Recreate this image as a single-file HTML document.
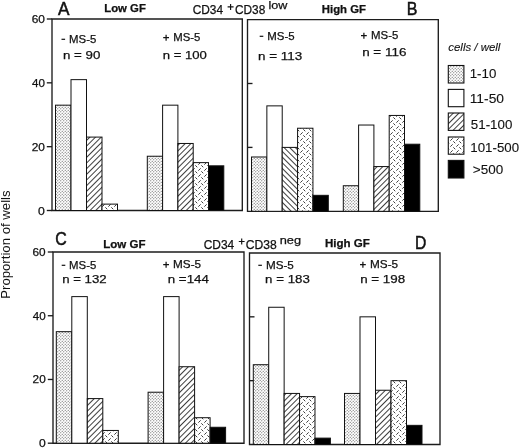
<!DOCTYPE html>
<html><head><meta charset="utf-8"><style>
html,body{margin:0;padding:0;background:#fff;}
svg{display:block;filter:grayscale(1);}
text{font-family:"Liberation Sans",sans-serif;}
</style></head><body>
<svg width="520" height="448" viewBox="0 0 520 448">
<rect width="520" height="448" fill="#fff"/>
<defs>
<pattern id="dots" width="3" height="3" patternUnits="userSpaceOnUse">
<rect width="3" height="3" fill="#fff"/>
<circle cx="0.75" cy="0.75" r="0.62" fill="#5e5e5e"/>
<circle cx="2.25" cy="2.25" r="0.62" fill="#5e5e5e"/>
</pattern>
<pattern id="hf" width="4" height="4" patternUnits="userSpaceOnUse" patternTransform="rotate(45)">
<rect width="4" height="4" fill="#fff"/>
<rect x="0" y="0" width="0.95" height="4" fill="#333"/>
</pattern>
<pattern id="hb" width="4" height="4" patternUnits="userSpaceOnUse" patternTransform="rotate(-45)">
<rect width="4" height="4" fill="#fff"/>
<rect x="0" y="0" width="0.95" height="4" fill="#333"/>
</pattern>
<pattern id="dash" width="6" height="6" patternUnits="userSpaceOnUse">
<rect width="6" height="6" fill="#fff"/>
<path d="M0.6 2.4L2.4 0.6M3.6 3.6L5.0 5.0" stroke="#333" stroke-width="0.95" stroke-linecap="round"/>
</pattern>
</defs>
<path d="M52 19H242.3V210.5H52Z" fill="none" stroke="#1c1c1c" stroke-width="1.35"/>
<path d="M46.8 19.00H52" stroke="#1c1c1c" stroke-width="1.35"/>
<path d="M46.8 82.83H52" stroke="#1c1c1c" stroke-width="1.35"/>
<path d="M46.8 146.67H52" stroke="#1c1c1c" stroke-width="1.35"/>
<path d="M46.8 210.50H52" stroke="#1c1c1c" stroke-width="1.35"/>
<rect x="55.50" y="105.17" width="15.50" height="105.33" fill="url(#dots)" stroke="#111" stroke-width="1.0"/>
<rect x="71.00" y="79.64" width="15.50" height="130.86" fill="#fff" stroke="#111" stroke-width="1.0"/>
<rect x="86.50" y="137.09" width="15.50" height="73.41" fill="url(#hf)" stroke="#111" stroke-width="1.0"/>
<rect x="102.00" y="204.12" width="15.50" height="6.38" fill="url(#dash)" stroke="#111" stroke-width="1.0"/>
<rect x="147.30" y="156.24" width="15.30" height="54.26" fill="url(#dots)" stroke="#111" stroke-width="1.0"/>
<rect x="162.60" y="105.17" width="15.30" height="105.33" fill="#fff" stroke="#111" stroke-width="1.0"/>
<rect x="177.90" y="143.47" width="15.30" height="67.03" fill="url(#hf)" stroke="#111" stroke-width="1.0"/>
<rect x="193.20" y="162.62" width="15.30" height="47.88" fill="url(#dash)" stroke="#111" stroke-width="1.0"/>
<rect x="208.50" y="165.82" width="15.30" height="44.68" fill="#000" stroke="#111" stroke-width="1.0"/>
<path d="M247.5 19.6H438.3V211.3H247.5Z" fill="none" stroke="#1c1c1c" stroke-width="1.35"/>
<path d="M247.5 83.50H252.5" stroke="#1c1c1c" stroke-width="1.35"/>
<path d="M247.5 147.40H252.5" stroke="#1c1c1c" stroke-width="1.35"/>
<rect x="251.50" y="156.99" width="15.36" height="54.31" fill="url(#dots)" stroke="#111" stroke-width="1.0"/>
<rect x="266.86" y="105.87" width="15.36" height="105.44" fill="#fff" stroke="#111" stroke-width="1.0"/>
<rect x="282.22" y="147.40" width="15.36" height="63.90" fill="url(#hb)" stroke="#111" stroke-width="1.0"/>
<rect x="297.58" y="128.23" width="15.36" height="83.07" fill="url(#dash)" stroke="#111" stroke-width="1.0"/>
<rect x="312.94" y="195.33" width="15.36" height="15.97" fill="#000" stroke="#111" stroke-width="1.0"/>
<rect x="343.30" y="185.74" width="15.30" height="25.56" fill="url(#dots)" stroke="#111" stroke-width="1.0"/>
<rect x="358.60" y="125.03" width="15.30" height="86.27" fill="#fff" stroke="#111" stroke-width="1.0"/>
<rect x="373.90" y="166.57" width="15.30" height="44.73" fill="url(#hf)" stroke="#111" stroke-width="1.0"/>
<rect x="389.20" y="115.45" width="15.30" height="95.85" fill="url(#dash)" stroke="#111" stroke-width="1.0"/>
<rect x="404.50" y="144.21" width="15.30" height="67.09" fill="#000" stroke="#111" stroke-width="1.0"/>
<path d="M53 252H244V443.2H53Z" fill="none" stroke="#1c1c1c" stroke-width="1.35"/>
<path d="M47.8 252.00H53" stroke="#1c1c1c" stroke-width="1.35"/>
<path d="M47.8 315.73H53" stroke="#1c1c1c" stroke-width="1.35"/>
<path d="M47.8 379.47H53" stroke="#1c1c1c" stroke-width="1.35"/>
<path d="M47.8 443.20H53" stroke="#1c1c1c" stroke-width="1.35"/>
<rect x="56.30" y="331.67" width="15.50" height="111.53" fill="url(#dots)" stroke="#111" stroke-width="1.0"/>
<rect x="71.80" y="296.61" width="15.50" height="146.59" fill="#fff" stroke="#111" stroke-width="1.0"/>
<rect x="87.30" y="398.59" width="15.50" height="44.61" fill="url(#hf)" stroke="#111" stroke-width="1.0"/>
<rect x="102.80" y="430.45" width="15.50" height="12.75" fill="url(#dash)" stroke="#111" stroke-width="1.0"/>
<rect x="148.10" y="392.21" width="15.50" height="50.99" fill="url(#dots)" stroke="#111" stroke-width="1.0"/>
<rect x="163.60" y="296.61" width="15.50" height="146.59" fill="#fff" stroke="#111" stroke-width="1.0"/>
<rect x="179.10" y="366.72" width="15.50" height="76.48" fill="url(#hf)" stroke="#111" stroke-width="1.0"/>
<rect x="194.60" y="417.71" width="15.50" height="25.49" fill="url(#dash)" stroke="#111" stroke-width="1.0"/>
<rect x="210.10" y="427.27" width="15.50" height="15.93" fill="#000" stroke="#111" stroke-width="1.0"/>
<path d="M249.5 253H440V444.5H249.5Z" fill="none" stroke="#1c1c1c" stroke-width="1.35"/>
<path d="M249.5 316.83H254.5" stroke="#1c1c1c" stroke-width="1.35"/>
<path d="M249.5 380.67H254.5" stroke="#1c1c1c" stroke-width="1.35"/>
<rect x="253.30" y="364.71" width="15.42" height="79.79" fill="url(#dots)" stroke="#111" stroke-width="1.0"/>
<rect x="268.72" y="307.26" width="15.42" height="137.24" fill="#fff" stroke="#111" stroke-width="1.0"/>
<rect x="284.14" y="393.43" width="15.42" height="51.07" fill="url(#hf)" stroke="#111" stroke-width="1.0"/>
<rect x="299.56" y="396.62" width="15.42" height="47.88" fill="url(#dash)" stroke="#111" stroke-width="1.0"/>
<rect x="314.98" y="438.12" width="15.42" height="6.38" fill="#000" stroke="#111" stroke-width="1.0"/>
<rect x="344.50" y="393.43" width="15.50" height="51.07" fill="url(#dots)" stroke="#111" stroke-width="1.0"/>
<rect x="360.00" y="316.83" width="15.50" height="127.67" fill="#fff" stroke="#111" stroke-width="1.0"/>
<rect x="375.50" y="390.24" width="15.50" height="54.26" fill="url(#hf)" stroke="#111" stroke-width="1.0"/>
<rect x="391.00" y="380.67" width="15.50" height="63.83" fill="url(#dash)" stroke="#111" stroke-width="1.0"/>
<rect x="406.50" y="425.35" width="15.50" height="19.15" fill="#000" stroke="#111" stroke-width="1.0"/>
<text x="31.75" y="23.00" font-size="11" textLength="13.22" lengthAdjust="spacingAndGlyphs" fill="#111" stroke="#111" stroke-width="0.25">60</text>
<text x="32.06" y="86.83" font-size="11" textLength="12.92" lengthAdjust="spacingAndGlyphs" fill="#111" stroke="#111" stroke-width="0.25">40</text>
<text x="31.77" y="150.67" font-size="11" textLength="13.18" lengthAdjust="spacingAndGlyphs" fill="#111" stroke="#111" stroke-width="0.25">20</text>
<text x="38.08" y="214.50" font-size="11" textLength="6.79" lengthAdjust="spacingAndGlyphs" fill="#111" stroke="#111" stroke-width="0.25">0</text>
<text x="32.56" y="256.00" font-size="11" textLength="13.15" lengthAdjust="spacingAndGlyphs" fill="#111" stroke="#111" stroke-width="0.25">60</text>
<text x="32.83" y="319.73" font-size="11" textLength="12.93" lengthAdjust="spacingAndGlyphs" fill="#111" stroke="#111" stroke-width="0.25">40</text>
<text x="32.60" y="383.47" font-size="11" textLength="13.09" lengthAdjust="spacingAndGlyphs" fill="#111" stroke="#111" stroke-width="0.25">20</text>
<text x="38.90" y="447.20" font-size="11" textLength="6.74" lengthAdjust="spacingAndGlyphs" fill="#111" stroke="#111" stroke-width="0.25">0</text>
<text x="57.94" y="15.00" font-size="17.7" textLength="11.48" lengthAdjust="spacingAndGlyphs" fill="#111" stroke="#111" stroke-width="0.5">A</text>
<text x="104.27" y="11.90" font-size="10.5" font-weight="bold" textLength="41.57" lengthAdjust="spacingAndGlyphs" fill="#111" stroke="#111" stroke-width="0.25">Low GF</text>
<text x="192.67" y="14.00" font-size="12" textLength="30.38" lengthAdjust="spacingAndGlyphs" fill="#111" stroke="#111" stroke-width="0.25">CD34</text>
<path d="M227.6 6.9H233.6M230.6 4.0V9.9" stroke="#111" stroke-width="1.15"/>
<text x="234.95" y="14.00" font-size="12" textLength="30.31" lengthAdjust="spacingAndGlyphs" fill="#111" stroke="#111" stroke-width="0.25">CD38</text>
<text x="268.45" y="9.00" font-size="11" textLength="18.90" lengthAdjust="spacingAndGlyphs" fill="#111" stroke="#111" stroke-width="0.25">low</text>
<text x="321.83" y="13.00" font-size="10.5" font-weight="bold" textLength="44.12" lengthAdjust="spacingAndGlyphs" fill="#111" stroke="#111" stroke-width="0.25">High GF</text>
<text x="406.69" y="15.00" font-size="18" textLength="10.66" lengthAdjust="spacingAndGlyphs" fill="#111" stroke="#111" stroke-width="0.5">B</text>
<text x="55.28" y="245.00" font-size="19" textLength="11.51" lengthAdjust="spacingAndGlyphs" fill="#111" stroke="#111" stroke-width="0.5">C</text>
<text x="103.26" y="247.60" font-size="10.5" font-weight="bold" textLength="42.31" lengthAdjust="spacingAndGlyphs" fill="#111" stroke="#111" stroke-width="0.25">Low GF</text>
<text x="203.68" y="249.00" font-size="12" textLength="30.52" lengthAdjust="spacingAndGlyphs" fill="#111" stroke="#111" stroke-width="0.25">CD34</text>
<path d="M238.8 241.5H244.6M241.7 238.5V244.5" stroke="#111" stroke-width="1.15"/>
<text x="245.66" y="249.00" font-size="12" textLength="30.99" lengthAdjust="spacingAndGlyphs" fill="#111" stroke="#111" stroke-width="0.25">CD38</text>
<text x="279.75" y="244.00" font-size="11" textLength="21.32" lengthAdjust="spacingAndGlyphs" fill="#111" stroke="#111" stroke-width="0.25">neg</text>
<text x="325.03" y="246.50" font-size="10.5" font-weight="bold" textLength="44.88" lengthAdjust="spacingAndGlyphs" fill="#111" stroke="#111" stroke-width="0.25">High GF</text>
<text x="414.94" y="248.70" font-size="17.5" textLength="11.31" lengthAdjust="spacingAndGlyphs" fill="#111" stroke="#111" stroke-width="0.5">D</text>
<rect x="61.50" y="38.70" width="3.6" height="1.2" fill="#111"/>
<text x="69.12" y="43.00" font-size="11.5" textLength="27.21" lengthAdjust="spacingAndGlyphs" fill="#111" stroke="#111" stroke-width="0.25">MS-5</text>
<text x="62.96" y="59.00" font-size="11.6" textLength="37.35" lengthAdjust="spacingAndGlyphs" fill="#111" stroke="#111" stroke-width="0.25">n = 90</text>
<path d="M163.20 37.70h5.8M166.10 34.70v6" stroke="#111" stroke-width="1.2"/>
<text x="173.30" y="41.00" font-size="11.5" textLength="27.07" lengthAdjust="spacingAndGlyphs" fill="#111" stroke="#111" stroke-width="0.25">MS-5</text>
<text x="162.75" y="59.00" font-size="11.6" textLength="44.07" lengthAdjust="spacingAndGlyphs" fill="#111" stroke="#111" stroke-width="0.25">n = 100</text>
<rect x="259.70" y="35.70" width="3.6" height="1.2" fill="#111"/>
<text x="267.27" y="40.00" font-size="11.5" textLength="27.32" lengthAdjust="spacingAndGlyphs" fill="#111" stroke="#111" stroke-width="0.25">MS-5</text>
<text x="257.96" y="60.00" font-size="11.6" textLength="44.23" lengthAdjust="spacingAndGlyphs" fill="#111" stroke="#111" stroke-width="0.25">n = 113</text>
<path d="M361.00 35.70h5.8M363.90 32.70v6" stroke="#111" stroke-width="1.2"/>
<text x="371.08" y="39.00" font-size="11.5" textLength="27.26" lengthAdjust="spacingAndGlyphs" fill="#111" stroke="#111" stroke-width="0.25">MS-5</text>
<text x="362.16" y="56.00" font-size="11.6" textLength="44.24" lengthAdjust="spacingAndGlyphs" fill="#111" stroke="#111" stroke-width="0.25">n = 116</text>
<rect x="61.70" y="264.70" width="3.6" height="1.2" fill="#111"/>
<text x="69.12" y="269.00" font-size="11.5" textLength="27.21" lengthAdjust="spacingAndGlyphs" fill="#111" stroke="#111" stroke-width="0.25">MS-5</text>
<text x="62.17" y="283.00" font-size="11.6" textLength="44.47" lengthAdjust="spacingAndGlyphs" fill="#111" stroke="#111" stroke-width="0.25">n = 132</text>
<path d="M163.20 264.70h5.8M166.10 261.70v6" stroke="#111" stroke-width="1.2"/>
<text x="173.10" y="268.00" font-size="11.5" textLength="28.06" lengthAdjust="spacingAndGlyphs" fill="#111" stroke="#111" stroke-width="0.25">MS-5</text>
<text x="167.74" y="283.00" font-size="11.6" textLength="41.18" lengthAdjust="spacingAndGlyphs" fill="#111" stroke="#111" stroke-width="0.25">n =144</text>
<rect x="258.30" y="264.70" width="3.6" height="1.2" fill="#111"/>
<text x="265.93" y="269.00" font-size="11.5" textLength="27.90" lengthAdjust="spacingAndGlyphs" fill="#111" stroke="#111" stroke-width="0.25">MS-5</text>
<text x="265.14" y="283.00" font-size="11.6" textLength="44.66" lengthAdjust="spacingAndGlyphs" fill="#111" stroke="#111" stroke-width="0.25">n = 183</text>
<path d="M360.00 264.70h5.8M362.90 261.70v6" stroke="#111" stroke-width="1.2"/>
<text x="370.04" y="268.00" font-size="11.5" textLength="28.15" lengthAdjust="spacingAndGlyphs" fill="#111" stroke="#111" stroke-width="0.25">MS-5</text>
<text x="360.16" y="283.00" font-size="11.6" textLength="45.01" lengthAdjust="spacingAndGlyphs" fill="#111" stroke="#111" stroke-width="0.25">n = 198</text>
<text x="448.26" y="51.40" font-size="11" font-style="italic" textLength="52.17" lengthAdjust="spacingAndGlyphs" fill="#111" stroke="#111" stroke-width="0.1">cells / well</text>
<rect x="448.3" y="65.5" width="15.6" height="17.50" fill="url(#dots)" stroke="#111" stroke-width="1.1"/>
<rect x="448.3" y="89.4" width="15.6" height="17.30" fill="#fff" stroke="#111" stroke-width="1.1"/>
<rect x="448.3" y="113.0" width="15.6" height="17.40" fill="url(#hf)" stroke="#111" stroke-width="1.1"/>
<rect x="448.3" y="137.0" width="15.6" height="17.20" fill="url(#dash)" stroke="#111" stroke-width="1.1"/>
<rect x="448.3" y="160.4" width="15.6" height="17.60" fill="#000" stroke="#111" stroke-width="1.1"/>
<text x="469.73" y="78.20" font-size="12" textLength="26.61" lengthAdjust="spacingAndGlyphs" fill="#111" stroke="#111" stroke-width="0.1">1-10</text>
<text x="469.70" y="102.70" font-size="12" textLength="34.32" lengthAdjust="spacingAndGlyphs" fill="#111" stroke="#111" stroke-width="0.1">11-50</text>
<text x="470.88" y="129.10" font-size="12" textLength="41.46" lengthAdjust="spacingAndGlyphs" fill="#111" stroke="#111" stroke-width="0.1">51-100</text>
<text x="470.35" y="151.90" font-size="12" textLength="48.67" lengthAdjust="spacingAndGlyphs" fill="#111" stroke="#111" stroke-width="0.1">101-500</text>
<text x="472.79" y="174.40" font-size="12" textLength="30.35" lengthAdjust="spacingAndGlyphs" fill="#111" stroke="#111" stroke-width="0.1">&gt;500</text>
<text transform="translate(10.3 298.80) rotate(-90)" x="-0.00" y="0" font-size="13" textLength="108.44" lengthAdjust="spacingAndGlyphs" fill="#111">Proportion of wells</text>
</svg>
</body></html>
